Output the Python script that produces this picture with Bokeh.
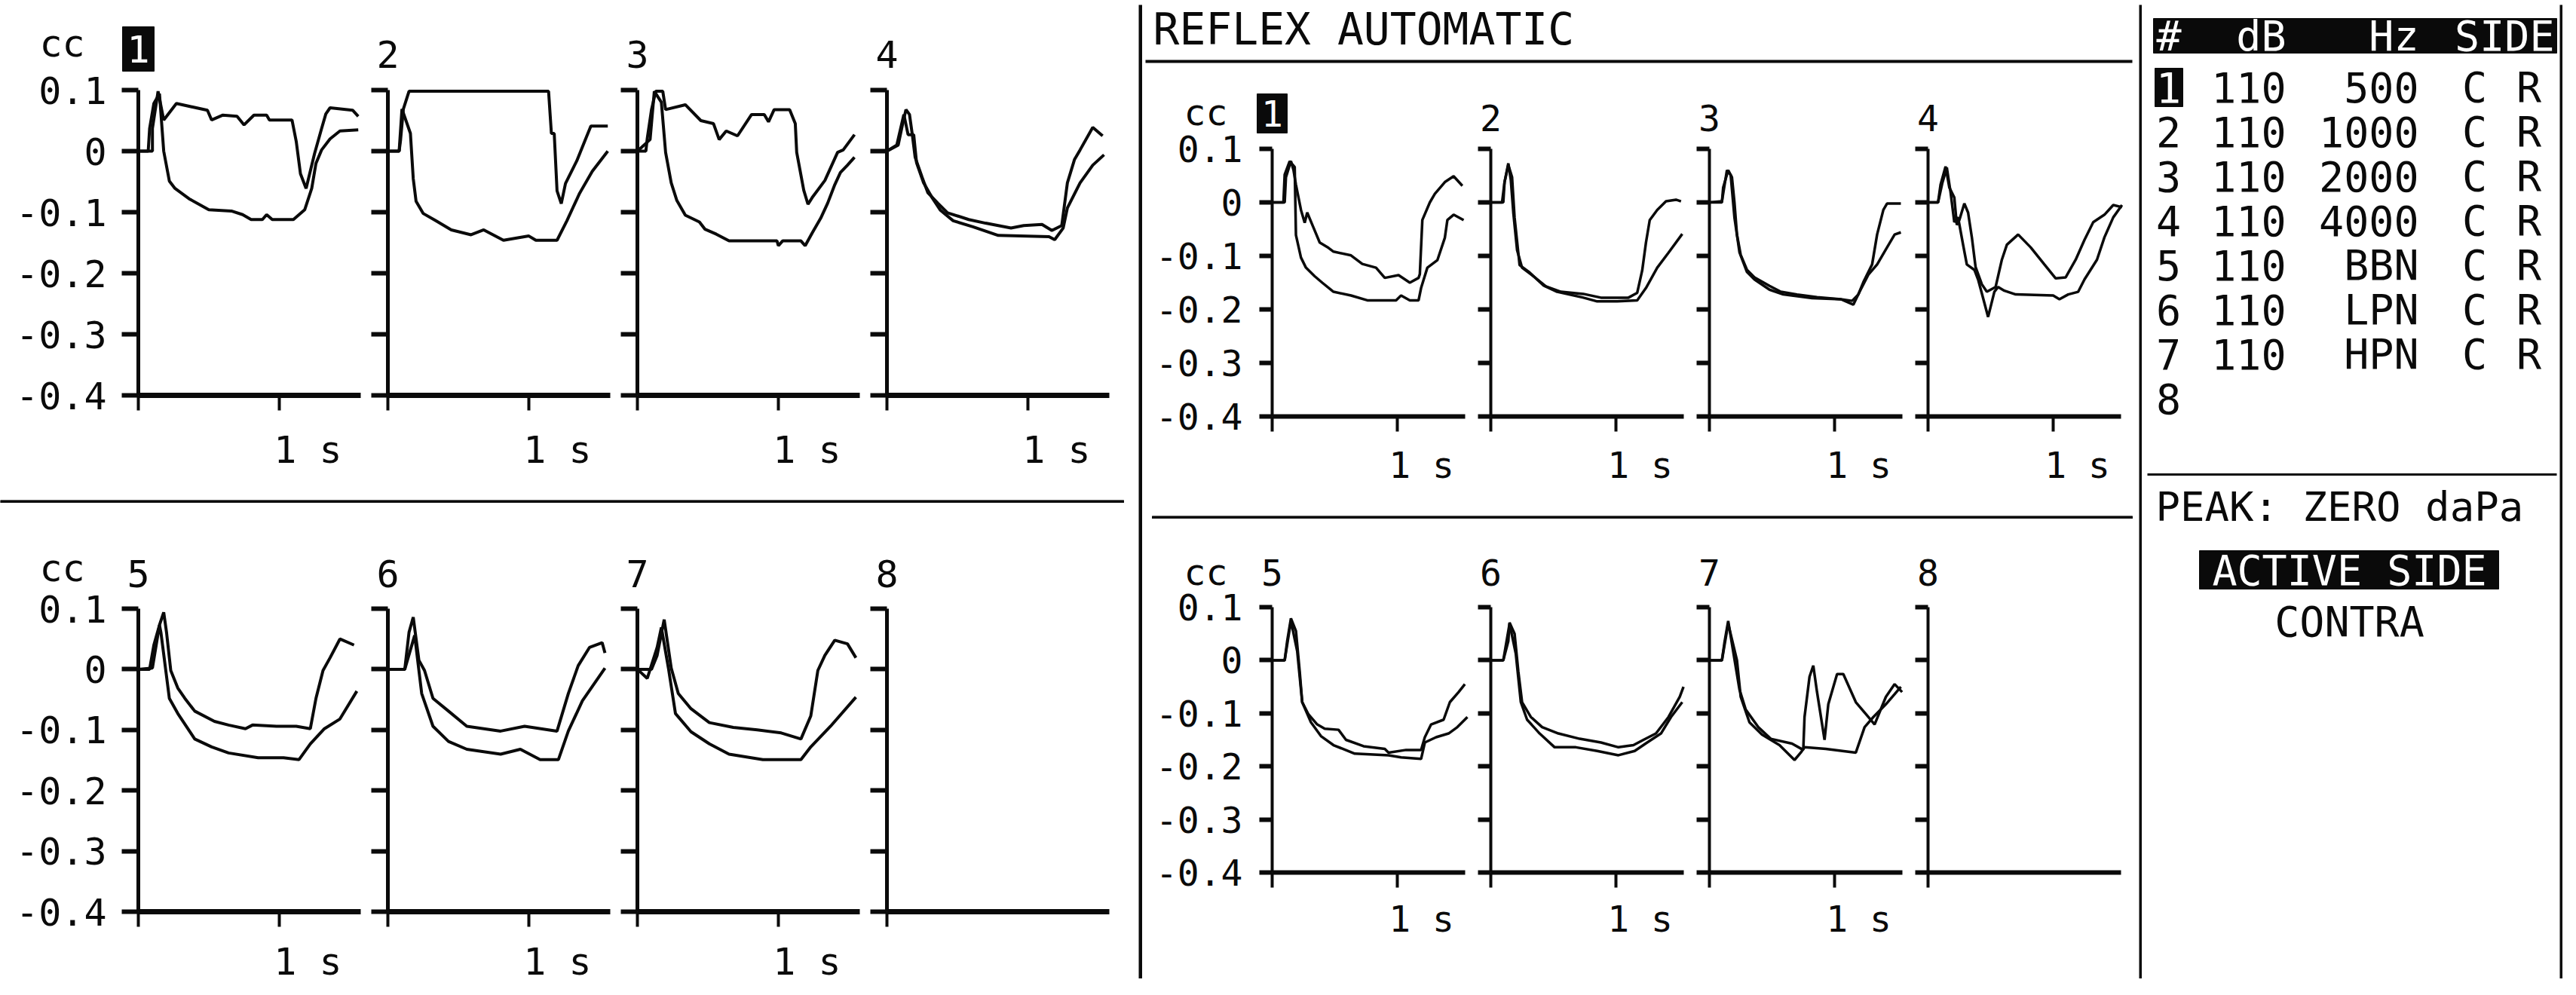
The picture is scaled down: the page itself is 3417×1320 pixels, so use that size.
from bokeh.plotting import figure
from bokeh.models import Range1d, FixedTicker, ColumnDataSource, CustomJSTickFormatter
from bokeh.layouts import row, column
from bokeh.embed import file_html
from bokeh.resources import INLINE
from bokeh.core.properties import value
from bokeh.core.validation import silence
from bokeh.core.validation.warnings import MISSING_RENDERERS

silence(MISSING_RENDERERS, True)

# ------------------------------------------------------------------ data
Y_TICKS = [0.1, 0.0, -0.1, -0.2, -0.3, -0.4]
Y_TICK_LABELS = ["0.1", "0", "-0.1", "-0.2", "-0.3", "-0.4"]
X_TICKS = [0, 1]
X_TICK_LABEL = "1 s"
Y_UNIT = "cc"
TOP_NUMBERS = ["1", "2", "3", "4"]
BOTTOM_NUMBERS = ["5", "6", "7", "8"]

# Screen A (left photo), top row
A1_UP_T = [0, 0.10, 0.10, 0.14, 0.18, 0.27, 0.49, 0.52, 0.60, 0.70, 0.75, 0.82, 0.91, 0.93, 1.09, 1.12, 1.15, 1.19, 1.25, 1.30, 1.33, 1.36, 1.52, 1.56]
A1_UP_V = [0, 0, 0.037, 0.098, 0.051, 0.078, 0.067, 0.051, 0.059, 0.057, 0.043, 0.059, 0.059, 0.051, 0.051, 0.016, -0.037, -0.061, -0.004, 0.037, 0.061, 0.071, 0.067, 0.057]
A1_LO_T = [0, 0.07, 0.08, 0.11, 0.15, 0.18, 0.22, 0.26, 0.36, 0.50, 0.66, 0.74, 0.80, 0.88, 0.91, 0.95, 1.10, 1.18, 1.23, 1.26, 1.30, 1.36, 1.43, 1.56]
A1_LO_V = [0, 0, 0.037, 0.078, 0.094, 0, -0.049, -0.061, -0.078, -0.096, -0.098, -0.104, -0.112, -0.112, -0.104, -0.112, -0.112, -0.096, -0.061, -0.020, 0.002, 0.020, 0.033, 0.035]
A2_UP_T = [0, 0.08, 0.09, 0.11, 0.15, 1.14, 1.16, 1.18, 1.20, 1.23, 1.26, 1.34, 1.41, 1.44, 1.56]
A2_UP_V = [0, 0, 0.018, 0.069, 0.098, 0.098, 0.029, 0.029, -0.065, -0.086, -0.053, -0.016, 0.024, 0.041, 0.041]
A2_LO_T = [0, 0.08, 0.10, 0.16, 0.18, 0.20, 0.25, 0.34, 0.45, 0.59, 0.68, 0.82, 1.00, 1.05, 1.20, 1.27, 1.36, 1.45, 1.56]
A2_LO_V = [0, 0, 0.069, 0.029, -0.045, -0.082, -0.102, -0.114, -0.129, -0.137, -0.129, -0.146, -0.139, -0.146, -0.146, -0.114, -0.069, -0.033, 0.0]
A3_UP_T = [0, 0.06, 0.07, 0.10, 0.13, 0.18, 0.20, 0.34, 0.45, 0.54, 0.58, 0.63, 0.71, 0.81, 0.90, 0.93, 0.97, 1.08, 1.12, 1.13, 1.18, 1.21, 1.24, 1.33, 1.42, 1.46, 1.54]
A3_UP_V = [0, 0, 0.021, 0.068, 0.098, 0.098, 0.068, 0.076, 0.050, 0.045, 0.019, 0.033, 0.025, 0.060, 0.060, 0.048, 0.068, 0.068, 0.045, -0.002, -0.064, -0.087, -0.076, -0.048, -0.002, 0.002, 0.027]
A3_LO_T = [0, 0.09, 0.12, 0.17, 0.20, 0.24, 0.28, 0.34, 0.44, 0.48, 0.56, 0.65, 0.72, 0.99, 1.00, 1.03, 1.16, 1.19, 1.24, 1.30, 1.35, 1.40, 1.44, 1.49, 1.54]
A3_LO_V = [0, 0.019, 0.098, 0.080, -0.002, -0.052, -0.081, -0.105, -0.116, -0.128, -0.136, -0.147, -0.147, -0.147, -0.155, -0.147, -0.147, -0.155, -0.134, -0.110, -0.085, -0.055, -0.035, -0.023, -0.010]
A4_UP_T = [0, 0.08, 0.11, 0.135, 0.16, 0.18, 0.20, 0.25, 0.29, 0.36, 0.43, 0.58, 0.70, 0.88, 0.97, 1.10, 1.17, 1.24, 1.28, 1.33, 1.37, 1.46, 1.53]
A4_UP_V = [0, 0.010, 0.043, 0.068, 0.060, 0.027, -0.010, -0.043, -0.068, -0.085, -0.101, -0.112, -0.118, -0.126, -0.122, -0.120, -0.130, -0.122, -0.052, -0.014, 0.002, 0.039, 0.025]
A4_LO_T = [0, 0.07, 0.12, 0.15, 0.19, 0.21, 0.26, 0.32, 0.38, 0.47, 0.61, 0.79, 1.15, 1.19, 1.25, 1.28, 1.37, 1.46, 1.54]
A4_LO_V = [0, 0.010, 0.060, 0.027, 0.027, -0.019, -0.052, -0.076, -0.097, -0.114, -0.124, -0.138, -0.140, -0.145, -0.126, -0.093, -0.052, -0.023, -0.006]

# Screen A, bottom row
B5_UP_T = [0, 0.08, 0.11, 0.15, 0.18, 0.20, 0.23, 0.28, 0.33, 0.40, 0.54, 0.64, 0.76, 0.81, 0.98, 1.12, 1.22, 1.26, 1.31, 1.36, 1.43, 1.53]
B5_UP_V = [0, 0, 0.040, 0.073, 0.094, 0.061, -0.002, -0.031, -0.048, -0.069, -0.086, -0.092, -0.098, -0.092, -0.094, -0.094, -0.098, -0.048, -0.002, 0.019, 0.050, 0.040]
B5_LO_T = [0, 0.10, 0.15, 0.16, 0.22, 0.28, 0.40, 0.52, 0.64, 0.85, 1.03, 1.14, 1.22, 1.32, 1.43, 1.55]
B5_LO_V = [0, 0.002, 0.073, 0.061, -0.048, -0.073, -0.115, -0.128, -0.138, -0.146, -0.146, -0.149, -0.123, -0.098, -0.082, -0.036]
B6_UP_T = [0, 0.12, 0.15, 0.18, 0.22, 0.26, 0.32, 0.43, 0.56, 0.80, 0.97, 1.20, 1.28, 1.35, 1.43, 1.52, 1.54]
B6_UP_V = [0, 0, 0.061, 0.086, 0.015, -0.002, -0.048, -0.069, -0.094, -0.102, -0.094, -0.102, -0.040, 0.006, 0.036, 0.044, 0.027]
B6_LO_T = [0, 0.12, 0.19, 0.24, 0.32, 0.43, 0.56, 0.80, 0.94, 1.08, 1.21, 1.28, 1.38, 1.54]
B6_LO_V = [0, 0, 0.056, -0.040, -0.094, -0.119, -0.132, -0.140, -0.132, -0.149, -0.149, -0.102, -0.052, 0.002]
B7_UP_T = [0, 0.10, 0.14, 0.19, 0.24, 0.29, 0.38, 0.51, 0.68, 0.85, 1.02, 1.16, 1.23, 1.28, 1.33, 1.40, 1.49, 1.55]
B7_UP_V = [0, 0, 0.023, 0.082, 0.002, -0.040, -0.065, -0.088, -0.096, -0.100, -0.105, -0.115, -0.077, -0.002, 0.023, 0.048, 0.042, 0.019]
B7_LO_T = [0, 0.07, 0.14, 0.17, 0.22, 0.27, 0.38, 0.51, 0.65, 0.89, 1.16, 1.23, 1.37, 1.55]
B7_LO_V = [0, -0.015, 0.036, 0.069, 0.002, -0.073, -0.103, -0.123, -0.140, -0.149, -0.149, -0.128, -0.094, -0.046]

# Screen B (right photo), top row
C1_UP_T = [0, 0.10, 0.11, 0.15, 0.17, 0.19, 0.23, 0.26, 0.28, 0.33, 0.38, 0.45, 0.49, 0.63, 0.72, 0.83, 0.90, 1.01, 1.10, 1.17, 1.18, 1.20, 1.26, 1.30, 1.38, 1.45, 1.52]
C1_UP_V = [0, 0, 0.047, 0.077, 0.061, 0.033, -0.014, -0.038, -0.019, -0.047, -0.075, -0.085, -0.092, -0.099, -0.115, -0.122, -0.141, -0.136, -0.150, -0.141, -0.134, -0.033, 0.0, 0.016, 0.038, 0.049, 0.031]
C1_LO_T = [0, 0.09, 0.10, 0.14, 0.18, 0.19, 0.23, 0.27, 0.34, 0.40, 0.49, 0.63, 0.76, 0.99, 1.03, 1.10, 1.17, 1.19, 1.24, 1.32, 1.38, 1.40, 1.45, 1.53]
C1_LO_V = [0, 0, 0.052, 0.077, 0.066, -0.061, -0.103, -0.122, -0.138, -0.150, -0.167, -0.174, -0.183, -0.183, -0.174, -0.183, -0.183, -0.160, -0.122, -0.108, -0.066, -0.033, -0.023, -0.033]
C2_UP_T = [0, 0.10, 0.11, 0.14, 0.16, 0.18, 0.21, 0.25, 0.33, 0.44, 0.56, 0.74, 0.88, 1.10, 1.17, 1.21, 1.24, 1.27, 1.33, 1.40, 1.48, 1.52]
C2_UP_V = [0, 0, 0.038, 0.073, 0.042, -0.019, -0.089, -0.122, -0.136, -0.157, -0.167, -0.171, -0.178, -0.178, -0.169, -0.127, -0.075, -0.033, -0.014, 0.002, 0.005, 0.002]
C2_LO_T = [0, 0.09, 0.11, 0.14, 0.17, 0.19, 0.23, 0.31, 0.42, 0.53, 0.74, 0.85, 1.01, 1.17, 1.24, 1.33, 1.42, 1.53]
C2_LO_V = [0, 0, 0.038, 0.070, 0.047, -0.028, -0.117, -0.131, -0.155, -0.167, -0.178, -0.185, -0.185, -0.183, -0.160, -0.122, -0.094, -0.059]
C3_UP_T = [0, 0.10, 0.11, 0.15, 0.18, 0.20, 0.22, 0.25, 0.30, 0.36, 0.48, 0.57, 0.70, 0.86, 1.05, 1.14, 1.19, 1.23, 1.30, 1.34, 1.39, 1.42, 1.53]
C3_UP_V = [0, 0, 0.028, 0.060, 0.047, 0.0, -0.060, -0.098, -0.126, -0.140, -0.156, -0.167, -0.172, -0.177, -0.181, -0.184, -0.172, -0.149, -0.116, -0.060, -0.014, -0.002, -0.002]
C3_LO_T = [0, 0.10, 0.14, 0.17, 0.20, 0.24, 0.30, 0.36, 0.48, 0.59, 0.82, 1.05, 1.15, 1.20, 1.27, 1.34, 1.41, 1.48, 1.53]
C3_LO_V = [0, 0.002, 0.060, 0.051, -0.028, -0.093, -0.130, -0.144, -0.163, -0.172, -0.179, -0.181, -0.191, -0.167, -0.135, -0.116, -0.088, -0.060, -0.056]
C4_UP_T = [0, 0.08, 0.10, 0.14, 0.17, 0.21, 0.23, 0.25, 0.29, 0.32, 0.35, 0.38, 0.43, 0.47, 0.54, 0.59, 0.63, 0.72, 0.82, 0.93, 1.02, 1.10, 1.18, 1.25, 1.32, 1.41, 1.48, 1.55]
C4_UP_V = [0, 0, 0.033, 0.067, 0.028, 0.009, -0.042, -0.033, -0.002, -0.019, -0.065, -0.121, -0.153, -0.167, -0.158, -0.107, -0.079, -0.060, -0.084, -0.116, -0.142, -0.140, -0.107, -0.070, -0.037, -0.023, -0.005, -0.009]
C4_LO_T = [0, 0.08, 0.115, 0.15, 0.18, 0.21, 0.24, 0.28, 0.31, 0.37, 0.40, 0.43, 0.48, 0.53, 0.56, 0.61, 0.70, 1.00, 1.05, 1.12, 1.20, 1.25, 1.35, 1.41, 1.48, 1.55]
C4_LO_V = [0, 0, 0.037, 0.065, 0.019, -0.037, -0.028, -0.079, -0.116, -0.126, -0.144, -0.170, -0.214, -0.167, -0.158, -0.165, -0.172, -0.174, -0.181, -0.172, -0.167, -0.144, -0.107, -0.065, -0.028, -0.005]

# Screen B, bottom row
D5_UP_T = [0, 0.10, 0.12, 0.15, 0.19, 0.22, 0.24, 0.29, 0.36, 0.42, 0.53, 0.59, 0.73, 0.90, 0.93, 1.07, 1.19, 1.22, 1.27, 1.37, 1.42, 1.49, 1.54]
D5_UP_V = [0, 0, 0.036, 0.079, 0.055, -0.021, -0.079, -0.102, -0.121, -0.129, -0.131, -0.150, -0.162, -0.167, -0.174, -0.169, -0.169, -0.145, -0.121, -0.112, -0.079, -0.060, -0.045]
D5_LO_T = [0, 0.10, 0.15, 0.20, 0.24, 0.31, 0.39, 0.49, 0.66, 0.93, 1.03, 1.19, 1.22, 1.31, 1.41, 1.48, 1.56]
D5_LO_V = [0, 0, 0.074, 0.017, -0.079, -0.117, -0.143, -0.160, -0.176, -0.179, -0.183, -0.186, -0.155, -0.145, -0.138, -0.126, -0.107]
D6_UP_T = [0, 0.10, 0.14, 0.15, 0.19, 0.22, 0.25, 0.32, 0.41, 0.54, 0.71, 0.88, 1.02, 1.14, 1.22, 1.32, 1.42, 1.51, 1.54]
D6_UP_V = [0, 0, 0.036, 0.071, 0.050, -0.021, -0.079, -0.107, -0.126, -0.138, -0.148, -0.155, -0.164, -0.160, -0.150, -0.138, -0.107, -0.069, -0.050]
D6_LO_T = [0, 0.10, 0.15, 0.20, 0.24, 0.29, 0.39, 0.51, 0.68, 0.85, 1.02, 1.15, 1.25, 1.36, 1.44, 1.53]
D6_LO_V = [0, 0, 0.069, 0.012, -0.079, -0.112, -0.138, -0.164, -0.164, -0.171, -0.179, -0.171, -0.155, -0.138, -0.107, -0.079]
D7_UP_T = [0, 0.10, 0.12, 0.15, 0.20, 0.24, 0.29, 0.39, 0.49, 0.66, 0.75, 0.76, 0.80, 0.83, 0.86, 0.92, 0.95, 1.02, 1.07, 1.17, 1.27, 1.32, 1.41, 1.48, 1.54]
D7_UP_V = [0, 0, 0.033, 0.074, 0.002, -0.055, -0.093, -0.126, -0.148, -0.157, -0.169, -0.107, -0.031, -0.010, -0.060, -0.150, -0.083, -0.026, -0.026, -0.079, -0.107, -0.121, -0.069, -0.045, -0.060]
D7_LO_T = [0, 0.10, 0.15, 0.22, 0.25, 0.32, 0.42, 0.56, 0.68, 0.73, 0.76, 0.93, 1.17, 1.24, 1.31, 1.41, 1.48, 1.53]
D7_LO_V = [0, 0, 0.069, 0.0, -0.069, -0.117, -0.140, -0.160, -0.188, -0.174, -0.164, -0.167, -0.174, -0.126, -0.107, -0.083, -0.064, -0.050]

# Settings table (screen B)
TITLE = "REFLEX AUTOMATIC"
TABLE_HEADERS = ["#", "dB", "Hz", "SIDE"]
ROW_IDS = ["1", "2", "3", "4", "5", "6", "7", "8"]
ROW_DB = ["110", "110", "110", "110", "110", "110", "110"]
ROW_STIM = ["500", "1000", "2000", "4000", "BBN", "LPN", "HPN"]
ROW_SIDE = ["C", "C", "C", "C", "C", "C", "C"]
ROW_EAR = ["R", "R", "R", "R", "R", "R", "R"]
PEAK_TEXT = "PEAK: ZERO daPa"
ACTIVE_TEXT = "ACTIVE SIDE"
MODE_TEXT = "CONTRA"

TRACES_A_TOP = [[(A1_UP_T, A1_UP_V), (A1_LO_T, A1_LO_V)], [(A2_UP_T, A2_UP_V), (A2_LO_T, A2_LO_V)],
                [(A3_UP_T, A3_UP_V), (A3_LO_T, A3_LO_V)], [(A4_UP_T, A4_UP_V), (A4_LO_T, A4_LO_V)]]
TRACES_A_BOT = [[(B5_UP_T, B5_UP_V), (B5_LO_T, B5_LO_V)], [(B6_UP_T, B6_UP_V), (B6_LO_T, B6_LO_V)],
                [(B7_UP_T, B7_UP_V), (B7_LO_T, B7_LO_V)], []]
TRACES_B_TOP = [[(C1_UP_T, C1_UP_V), (C1_LO_T, C1_LO_V)], [(C2_UP_T, C2_UP_V), (C2_LO_T, C2_LO_V)],
                [(C3_UP_T, C3_UP_V), (C3_LO_T, C3_LO_V)], [(C4_UP_T, C4_UP_V), (C4_LO_T, C4_LO_V)]]
TRACES_B_BOT = [[(D5_UP_T, D5_UP_V), (D5_LO_T, D5_LO_V)], [(D6_UP_T, D6_UP_V), (D6_LO_T, D6_LO_V)],
                [(D7_UP_T, D7_UP_V), (D7_LO_T, D7_LO_V)], []]

# ------------------------------------------------------------------ style / layout (page pixels)
FONT = "DejaVu Sans Mono"
INK = "#0a0a0a"

LEFT_TOP = dict(bounds=[8, 491, 822, 1153, 1518], axes=[191, 522, 853, 1184], fw=295, pxs=187,
                row_top=8, row_bot=667, ft=127, fh=405, fs=50, lw=4.0, ax_lw=5, base_lw=7,
                tick_out=22, standoff=20, cc_dx=-101, cc_c=62, num_c=48, hl_c=55,
                box=(21, 25, 84), s_dx=38, s_down=72)
LEFT_BOT = dict(LEFT_TOP, row_top=675, row_bot=1312, ft=815, fh=402, cc_c=54, num_c=47, s_down=66)
RIGHT_TOP = dict(bounds=[1523, 1959, 2249, 2539, 2845], axes=[1695, 1985, 2275, 2565], fw=256, pxs=166,
                 row_top=94, row_bot=688, ft=205, fh=355, fs=48, lw=3.5, ax_lw=4, base_lw=6,
                 tick_out=17, standoff=22, cc_dx=-88, cc_c=49, num_c=41, hl_c=47,
                 box=(20, 21, 73), s_dx=32, s_down=64)
RIGHT_BOT = dict(RIGHT_TOP, row_top=696, row_bot=1306, ft=813, fh=352, cc_c=47, num_c=46, s_down=61)


def blank_formatter():
    return CustomJSTickFormatter(code="return '';")


def make_row(cfg, traces, numbers):
    ymin, ymax = min(Y_TICKS), max(Y_TICKS)
    ppu = cfg["fh"] / (ymax - ymin)          # pixels per cc
    pxs = cfg["pxs"]                          # pixels per second
    height = cfg["row_bot"] - cfg["row_top"]
    y_lo = ymin - (cfg["row_bot"] - cfg["ft"] - cfg["fh"]) / ppu
    y_hi = ymax + (cfg["ft"] - cfg["row_top"]) / ppu
    fs = "%dpx" % cfg["fs"]
    figs = []
    for k in range(4):
        bx0, bx1 = cfg["bounds"][k], cfg["bounds"][k + 1]
        left = cfg["axes"][k] - bx0
        width = bx1 - bx0
        p = figure(width=width, height=height,
                   x_range=Range1d(-left / pxs, (width - left) / pxs),
                   y_range=Range1d(y_lo, y_hi),
                   min_border=0, toolbar_location=None, output_backend="svg", title=None)
        p.outline_line_color = None
        p.grid.visible = False
        p.background_fill_color = "white"
        p.border_fill_color = "white"

        ya = p.yaxis[0]
        ya.fixed_location = 0
        ya.bounds = (ymin, ymax)
        ya.ticker = FixedTicker(ticks=Y_TICKS)
        ya.axis_line_color = INK
        ya.axis_line_width = cfg["ax_lw"]
        ya.major_tick_line_color = INK
        ya.major_tick_line_width = 6
        ya.major_tick_in = 0
        ya.major_tick_out = cfg["tick_out"]
        ya.minor_tick_line_color = None
        ya.major_label_text_font = FONT
        ya.major_label_text_font_size = fs
        ya.major_label_text_color = INK
        if k == 0:
            ya.formatter = CustomJSTickFormatter(
                args=dict(vals=Y_TICKS, labs=Y_TICK_LABELS),
                code="const i = vals.findIndex((t) => Math.abs(t - tick) < 1e-6); return i >= 0 ? labs[i] : '';")
            ya.major_label_standoff = cfg["standoff"]
        else:
            ya.formatter = blank_formatter()
            ya.major_label_standoff = 0

        tr = traces[k]
        xa = p.xaxis[0]
        xa.fixed_location = ymin
        xa.bounds = (0, cfg["fw"] / pxs)
        xa.ticker = FixedTicker(ticks=X_TICKS if tr else X_TICKS[:1])
        xa.formatter = blank_formatter()
        xa.axis_line_color = INK
        xa.axis_line_width = cfg["base_lw"]
        xa.major_tick_line_color = INK
        xa.major_tick_line_width = 4
        xa.major_tick_in = 0
        xa.major_tick_out = 20
        xa.minor_tick_line_color = None
        xa.major_label_standoff = 0
        xa.major_label_text_font_size = "10px"

        for t, v in tr:
            p.line(t, v, line_color=INK, line_width=cfg["lw"], line_join="bevel")

        # panel heading: unit and panel number
        if k == 0:
            p.text(x=[cfg["cc_dx"] / pxs], y=[ymax + cfg["cc_c"] / ppu], text=[Y_UNIT],
                   text_font=value(FONT), text_font_size=fs, text_align="center",
                   text_baseline="middle", text_color=INK)
        num = numbers[k]
        hl = (num == "1")
        if hl:
            hw, lo, hi = cfg["box"]
            p.quad(left=[-hw / pxs], right=[hw / pxs], bottom=[ymax + lo / ppu], top=[ymax + hi / ppu],
                   color=INK)
        p.text(x=[0], y=[ymax + (cfg["hl_c"] if hl else cfg["num_c"]) / ppu], text=[num],
               text_font=value(FONT), text_font_size=fs, text_align="center", text_baseline="middle",
               text_color="white" if hl else INK)
        if tr:
            p.text(x=[X_TICKS[1] + cfg["s_dx"] / pxs], y=[ymin - cfg["s_down"] / ppu], text=[X_TICK_LABEL],
                   text_font=value(FONT), text_font_size=fs, text_align="center",
                   text_baseline="middle", text_color=INK)
        figs.append(p)
    return row(*figs)


def bar(w, h):
    p = figure(width=w, height=h, toolbar_location=None, output_backend="svg", title=None,
               x_axis_type=None, y_axis_type=None, min_border=0)
    p.background_fill_color = INK
    p.border_fill_color = INK
    p.outline_line_color = None
    return p


def deco(x0, x1, y0, y1):
    p = figure(width=x1 - x0, height=y1 - y0, x_range=Range1d(x0, x1), y_range=Range1d(y1, y0),
               toolbar_location=None, output_backend="svg", title=None,
               x_axis_type=None, y_axis_type=None, min_border=0)
    p.background_fill_color = "white"
    p.border_fill_color = "white"
    p.outline_line_color = None
    return p


def txt(p, xs, ys, texts, size, align="left", color=INK):
    src = ColumnDataSource(dict(x=xs, y=ys, t=texts))
    p.text(x="x", y="y", text="t", source=src, text_font=value(FONT), text_font_size=size,
           text_align=align, text_baseline="middle", text_color=color)


# ---------------- left screen
left_div = deco(8, 1518, 667, 675)
left_div.quad(left=[8], right=[1498], top=[667], bottom=[675], color=INK)
left_screen = column(make_row(LEFT_TOP, TRACES_A_TOP, TOP_NUMBERS), left_div,
                     make_row(LEFT_BOT, TRACES_A_BOT, BOTTOM_NUMBERS))

# ---------------- right screen
title_fig = deco(1523, 2845, 14, 94)
txt(title_fig, [1537], [46], [TITLE], "58px")
title_fig.segment(x0=[1527], y0=[89], x1=[2836], y1=[89], line_color=INK, line_width=4)

right_div = deco(1523, 2845, 688, 696)
right_div.quad(left=[1536], right=[2836], top=[688], bottom=[696], color=INK)

plot_col = column(title_fig, make_row(RIGHT_TOP, TRACES_B_TOP, TOP_NUMBERS), right_div,
                  make_row(RIGHT_BOT, TRACES_B_BOT, BOTTOM_NUMBERS))

tb = deco(2849, 3403, 14, 1306)
tb.quad(left=[2864], right=[3399], top=[32], bottom=[78], color=INK)
txt(tb, [2868], [55], [TABLE_HEADERS[0]], "55px", "left", "white")
txt(tb, [3040], [55], [TABLE_HEADERS[1]], "55px", "right", "white")
txt(tb, [3216], [55], [TABLE_HEADERS[2]], "55px", "right", "white")
txt(tb, [3396], [55], [TABLE_HEADERS[3]], "55px", "right", "white")
row_y = [123 + 59 * i for i in range(len(ROW_IDS))]
tb.quad(left=[2866], right=[2903], top=[row_y[0] - 25], bottom=[row_y[0] + 26], color=INK)
txt(tb, [2884], [row_y[0]], ROW_IDS[:1], "55px", "center", "white")
txt(tb, [2884] * (len(ROW_IDS) - 1), row_y[1:], ROW_IDS[1:], "55px", "center")
n = len(ROW_DB)
txt(tb, [3040] * n, row_y[:n], ROW_DB, "55px", "right")
txt(tb, [3216] * n, row_y[:n], ROW_STIM, "55px", "right")
txt(tb, [3290] * n, row_y[:n], ROW_SIDE, "55px", "center")
txt(tb, [3362] * n, row_y[:n], ROW_EAR, "55px", "center")
tb.segment(x0=[2856], y0=[637], x1=[3399], y1=[637], line_color=INK, line_width=3)
txt(tb, [2867], [680], [PEAK_TEXT], "54px", "left")
tb.quad(left=[2925], right=[3322], top=[738], bottom=[789], color=INK)
txt(tb, [3124], [764], [ACTIVE_TEXT], "55px", "center", "white")
txt(tb, [3124], [832], [MODE_TEXT], "55px", "center")

right_mid = row(bar(5, 1292), plot_col, bar(4, 1292), tb, bar(4, 1292))
right_screen = column(bar(1889, 6), right_mid, bar(1889, 6))

page = row(left_screen, right_screen)

open("out.html", "w").write(file_html(page, INLINE, title="Reflex automatic"))
